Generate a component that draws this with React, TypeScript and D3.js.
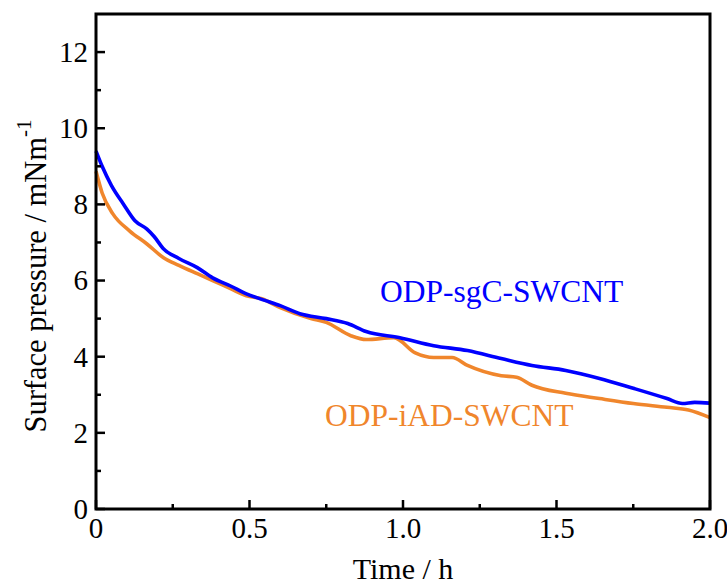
import React from "react";
import * as d3 from "d3";

const sgcTime = [0, 0.02, 0.05, 0.09, 0.127, 0.166, 0.19, 0.218, 0.27, 0.33, 0.38, 0.44, 0.49, 0.55, 0.6, 0.664, 0.75, 0.82, 0.88, 0.99, 1.1, 1.21, 1.32, 1.42, 1.53, 1.64, 1.75, 1.86, 1.91, 1.95, 2.0];
const sgcValue = [9.4, 9.0, 8.5, 8.0, 7.57, 7.35, 7.15, 6.85, 6.58, 6.34, 6.07, 5.85, 5.65, 5.48, 5.34, 5.13, 5.0, 4.87, 4.66, 4.5, 4.29, 4.16, 3.95, 3.77, 3.64, 3.43, 3.17, 2.9, 2.77, 2.8, 2.78];

const iadTime = [0, 0.02, 0.055, 0.11, 0.166, 0.22, 0.27, 0.33, 0.38, 0.44, 0.49, 0.54, 0.6, 0.7, 0.75, 0.83, 0.88, 0.97, 1.04, 1.1, 1.16, 1.21, 1.32, 1.37, 1.42, 1.53, 1.64, 1.75, 1.86, 1.93, 2.0];
const iadValue = [8.87, 8.3, 7.75, 7.3, 6.96, 6.6, 6.4, 6.18, 6.0, 5.78, 5.6, 5.52, 5.29, 5.0, 4.9, 4.55, 4.45, 4.5, 4.1, 3.98, 3.98, 3.77, 3.5, 3.46, 3.25, 3.04, 2.9, 2.77, 2.67, 2.6, 2.4];

const xMajor = [0, 0.5, 1.0, 1.5, 2.0];
const xMinor = [0.25, 0.75, 1.25, 1.75];
const yMajor = [0, 2, 4, 6, 8, 10, 12];
const yMinor = [1, 3, 5, 7, 9, 11];

const W = 727, H = 585;
const L = 96, R = 710, T = 14, B = 509;
const BLUE = "#0000ff";
const ORANGE = "#f0862c";
const FONT = "Liberation Serif, Times New Roman, serif";
const ts = { fontFamily: FONT };

export default function App() {
  const x = d3.scaleLinear().domain([0, 2]).range([L, R]);
  const y = d3.scaleLinear().domain([0, 13]).range([B, T]);
  const line = d3
    .line<[number, number]>()
    .x((d) => x(d[0]))
    .y((d) => y(d[1]))
    .curve(d3.curveMonotoneX);
  const sgc = sgcTime.map((t, i) => [t, sgcValue[i]] as [number, number]);
  const iad = iadTime.map((t, i) => [t, iadValue[i]] as [number, number]);

  return (
    <svg width={W} height={H} style={{ position: "absolute", left: 0, top: 0, fontFamily: FONT }}>
      <rect width={W} height={H} fill="#fff" />
      <path d={line(iad) || ""} fill="none" stroke={ORANGE} strokeWidth={3.6} />
      <path d={line(sgc) || ""} fill="none" stroke={BLUE} strokeWidth={3.6} />
      <rect x={L} y={T} width={R - L} height={B - T} fill="none" stroke="#000" strokeWidth={3} />
      {xMajor.map((v) => (
        <g key={"xm" + v}>
          <line x1={x(v)} x2={x(v)} y1={B} y2={B - 9} stroke="#000" strokeWidth={2.5} />
          <text style={ts} x={x(v)} y={538} fontSize={29} textAnchor="middle">{v === 0 ? "0" : v.toFixed(1)}</text>
        </g>
      ))}
      {xMinor.map((v) => (
        <line key={"xn" + v} x1={x(v)} x2={x(v)} y1={B} y2={B - 5} stroke="#000" strokeWidth={2.5} />
      ))}
      {yMajor.map((v) => (
        <g key={"ym" + v}>
          <line x1={L} x2={L + 9} y1={y(v)} y2={y(v)} stroke="#000" strokeWidth={2.5} />
          <text style={ts} x={88} y={y(v)} dy="0.34em" fontSize={29} textAnchor="end">{v}</text>
        </g>
      ))}
      {yMinor.map((v) => (
        <line key={"yn" + v} x1={L} x2={L + 5} y1={y(v)} y2={y(v)} stroke="#000" strokeWidth={2.5} />
      ))}
      <text style={ts} x={403} y={579} fontSize={30} textAnchor="middle">Time / h</text>
      <text style={ts} transform="translate(46,276) rotate(-90)" fontSize={30.5} textAnchor="middle">
        Surface pressure / mNm
        <tspan dy={-15} fontSize={21}>-1</tspan>
      </text>
      <text style={ts} x={380} y={302} fontSize={31.5} fill={BLUE}>ODP-sgC-SWCNT</text>
      <text style={ts} x={325} y={426} fontSize={31.5} fill={ORANGE}>ODP-iAD-SWCNT</text>
    </svg>
  );
}
